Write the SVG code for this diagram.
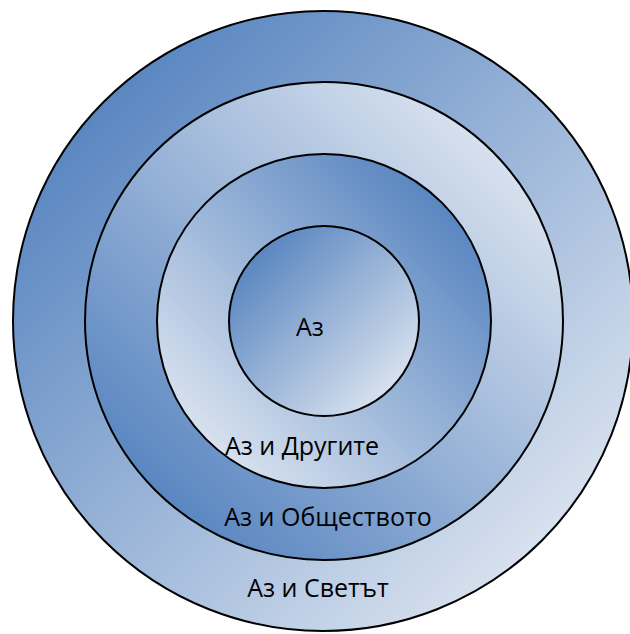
<svg xmlns="http://www.w3.org/2000/svg" width="630" height="634" viewBox="0 0 630 634">
<defs>
<linearGradient id="gTL" x1="0.15" y1="0.15" x2="0.85" y2="0.85">
<stop offset="0" stop-color="#5b87c1"/><stop offset="1" stop-color="#d6e0ee"/>
</linearGradient>
<linearGradient id="gTR" x1="0.85" y1="0.15" x2="0.15" y2="0.85">
<stop offset="0" stop-color="#5b87c1"/><stop offset="1" stop-color="#d6e0ee"/>
</linearGradient>
<linearGradient id="gBL" x1="0.15" y1="0.85" x2="0.85" y2="0.15">
<stop offset="0" stop-color="#5b87c1"/><stop offset="1" stop-color="#d6e0ee"/>
</linearGradient>
<style>
circle{stroke:#000;stroke-width:2}
text{font-family:"Open Sans","Liberation Sans",sans-serif;font-size:25px;fill:#000;text-anchor:middle}
</style>
</defs>
<g id="world"><circle cx="323" cy="321" r="310" fill="url(#gTL)"/><text x="318" y="597">Аз и Светът</text></g>
<g id="society"><circle cx="324" cy="321" r="239" fill="url(#gBL)"/><text x="328" y="526">Аз и Обществото</text></g>
<g id="others"><circle cx="324" cy="321" r="167" fill="url(#gTR)"/><text x="302" y="455">Аз и Другите</text></g>
<g id="self"><circle cx="324" cy="321" r="95" fill="url(#gTL)"/><text x="310" y="336">Аз</text></g>
</svg>
